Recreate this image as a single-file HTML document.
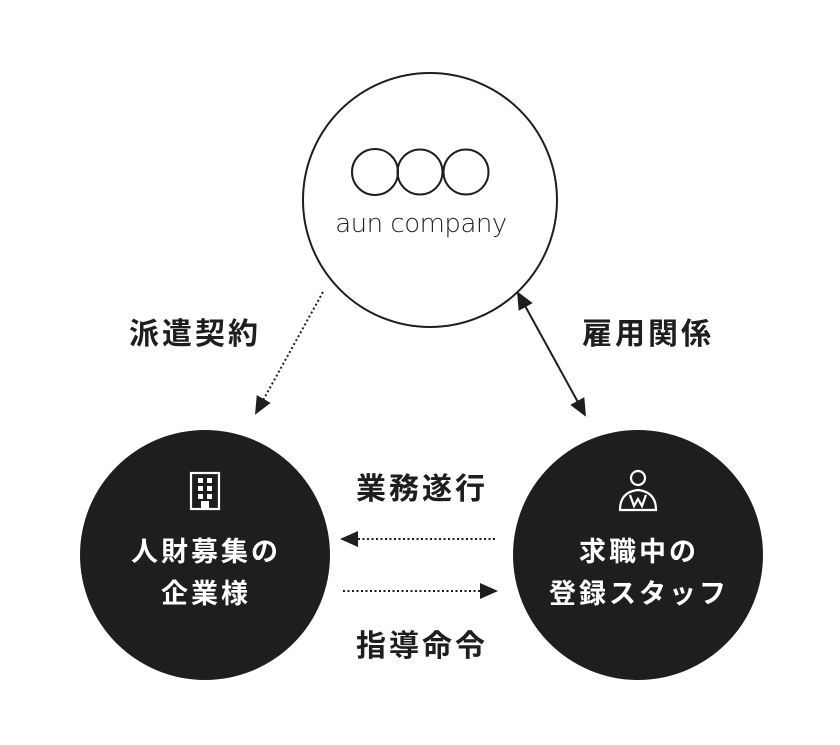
<!DOCTYPE html>
<html><head><meta charset="utf-8"><style>
html,body{margin:0;padding:0;background:#fff;}
svg text{font-family:"Liberation Sans","Noto Sans CJK JP",sans-serif;}
</style></head><body>
<svg width="840" height="740" viewBox="0 0 840 740" xmlns="http://www.w3.org/2000/svg">
<defs>
<marker id="ah" markerWidth="18" markerHeight="18" refX="16" refY="8" orient="auto-start-reverse" markerUnits="userSpaceOnUse" viewBox="0 0 18 16"><path d="M0,0 L18,8 L0,16 z" fill="#1e1e1e"/></marker>
</defs>
<circle cx="430" cy="200" r="127" fill="#fff" stroke="#1e1e1e" stroke-width="2"/>
<g fill="none" stroke="#1e1e1e" stroke-width="2">
<circle cx="375" cy="172" r="23"/><circle cx="420" cy="172" r="22.5"/><circle cx="466" cy="172" r="22.5"/>
</g>
<text x="421" y="232" text-anchor="middle" font-size="26" fill="#222" style="font-family:'DejaVu Sans',sans-serif;font-weight:200;letter-spacing:-0.5px">aun company</text>

<circle cx="205" cy="555" r="125" fill="#1e1e1e"/>
<circle cx="638" cy="555" r="125" fill="#1e1e1e"/>

<g fill="none" stroke="#fff" stroke-width="2.2">
<rect x="191" y="473" width="28" height="36"/>
</g>
<g fill="#fff">
<rect x="198" y="478" width="5" height="5"/><rect x="207" y="478" width="5" height="5"/>
<rect x="198" y="486" width="5" height="5"/><rect x="207" y="486" width="5" height="5"/>
<rect x="198" y="494" width="5" height="5"/><rect x="207" y="494" width="5" height="5"/>
<rect x="201" y="501" width="8" height="8"/>
</g>
<g fill="none" stroke="#fff" stroke-width="2.2">
<circle cx="638" cy="478" r="7"/>
<path d="M620,510 Q620,492 638,490 Q656,492 656,510 Z"/>
<path d="M630,495 L634,506 L638,499 L642,506 L646,495"/>
</g>

<g font-size="27" font-weight="bold" fill="#fff" text-anchor="middle" letter-spacing="3">
<text x="206" y="561">人財募集の</text>
<text x="206" y="603">企業様</text>
<text x="639" y="561">求職中の</text>
<text x="639" y="603">登録スタッフ</text>
</g>
<g font-size="30" font-weight="bold" fill="#1e1e1e" text-anchor="middle" letter-spacing="3">
<text x="195" y="344">派遣契約</text>
<text x="648" y="344">雇用関係</text>
<text x="422" y="499">業務遂行</text>
<text x="422" y="656">指導命令</text>
</g>

<line x1="323" y1="292" x2="256" y2="413" stroke="#1e1e1e" stroke-width="2" stroke-dasharray="2,2.5" marker-end="url(#ah)"/>
<line x1="518" y1="293" x2="585" y2="415" stroke="#1e1e1e" stroke-width="2" marker-start="url(#ah)" marker-end="url(#ah)"/>
<line x1="495" y1="539" x2="342" y2="539" stroke="#1e1e1e" stroke-width="2" stroke-dasharray="2,2.5" marker-end="url(#ah)"/>
<line x1="343" y1="591" x2="496" y2="591" stroke="#1e1e1e" stroke-width="2" stroke-dasharray="2,2.5" marker-end="url(#ah)"/>
</svg>
</body></html>
